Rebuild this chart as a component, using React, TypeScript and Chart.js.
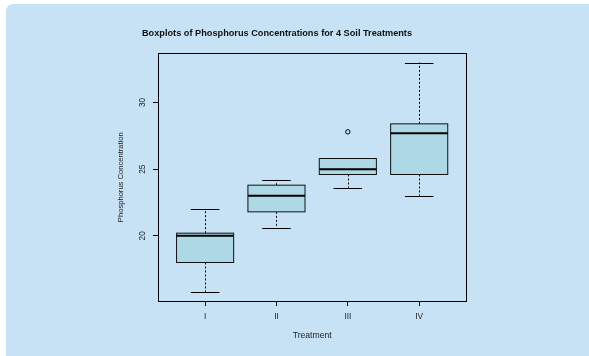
import React, { useEffect, useRef } from 'react';
import { Chart, registerables } from 'chart.js';

Chart.register(...registerables);

const categories = ['I', 'II', 'III', 'IV'];
const positions = [1, 2, 3, 4];
const whiskerLow = [15.8, 20.6, 23.6, 23.0];
const q1 = [18.0, 21.8, 24.6, 24.6];
const median = [20.0, 23.0, 25.0, 27.7];
const q3 = [20.2, 23.8, 25.8, 28.4];
const whiskerHigh = [22.0, 24.2, 25.8, 33.0];
const outlierX = [3];
const outlierY = [27.8];
const yTickValues = [20, 25, 30];

const allVals = [...whiskerLow, ...whiskerHigh, ...outlierY];
const dataMin = Math.min(...allVals);
const dataMax = Math.max(...allVals);
const yPad = (dataMax - dataMin) * 0.04;
const xPad = categories.length * 0.04;
const xMin = 0.5 - xPad;
const xMax = categories.length + 0.5 + xPad;

const FONT = '"Liberation Sans", Arial, Helvetica, sans-serif';

const boxPlugin = {
  id: 'rboxes',
  beforeDatasetsDraw(chart: any) {
    const { ctx, chartArea, scales } = chart;
    const x = scales.x;
    const y = scales.y;
    ctx.save();
    ctx.strokeStyle = '#000';
    ctx.lineWidth = 1;
    ctx.setLineDash([]);
    const l = Math.round(chartArea.left) + 0.5;
    const t = Math.round(chartArea.top) + 0.5;
    const r = Math.round(chartArea.right) + 0.5;
    const b = Math.round(chartArea.bottom) + 0.5;
    ctx.strokeRect(l, t, r - l, b - t);

    for (let i = 0; i < positions.length; i++) {
      const p = positions[i];
      const cx = Math.round(x.getPixelForValue(p)) + 0.5;
      const bl = x.getPixelForValue(p - 0.4);
      const br = x.getPixelForValue(p + 0.4);
      const cl = x.getPixelForValue(p - 0.2);
      const cr = x.getPixelForValue(p + 0.2);
      const yLo = y.getPixelForValue(whiskerLow[i]);
      const yQ1 = y.getPixelForValue(q1[i]);
      const yMed = y.getPixelForValue(median[i]);
      const yQ3 = y.getPixelForValue(q3[i]);
      const yHi = y.getPixelForValue(whiskerHigh[i]);

      ctx.strokeStyle = '#000';
      ctx.lineWidth = 1;
      ctx.setLineDash([2, 2]);
      ctx.beginPath();
      ctx.moveTo(cx, yQ1);
      ctx.lineTo(cx, yLo);
      ctx.moveTo(cx, yQ3);
      ctx.lineTo(cx, yHi);
      ctx.stroke();
      ctx.setLineDash([]);

      ctx.beginPath();
      ctx.moveTo(cl, Math.round(yLo) + 0.5);
      ctx.lineTo(cr, Math.round(yLo) + 0.5);
      ctx.moveTo(cl, Math.round(yHi) + 0.5);
      ctx.lineTo(cr, Math.round(yHi) + 0.5);
      ctx.stroke();

      ctx.fillStyle = '#ADD8E6';
      ctx.fillRect(bl, yQ3, br - bl, yQ1 - yQ3);
      ctx.strokeStyle = '#111';
      ctx.lineWidth = 1;
      ctx.strokeRect(bl, yQ3, br - bl, yQ1 - yQ3);

      ctx.strokeStyle = '#000';
      ctx.lineWidth = 2;
      ctx.beginPath();
      ctx.moveTo(bl, yMed);
      ctx.lineTo(br, yMed);
      ctx.stroke();
    }
    ctx.restore();
  },
};

export default function App() {
  const ref = useRef<HTMLCanvasElement | null>(null);

  useEffect(() => {
    const canvas = ref.current;
    if (!canvas) return;
    const chart = new Chart(canvas, {
      type: 'scatter',
      data: {
        datasets: [
          {
            label: 'outliers',
            data: outlierX.map((v, i) => ({ x: v, y: outlierY[i] })),
            pointRadius: 2.2,
            pointStyle: 'circle',
            borderColor: '#000',
            backgroundColor: 'rgba(0,0,0,0)',
            borderWidth: 1,
          },
        ],
      },
      options: {
        animation: false,
        responsive: false,
        devicePixelRatio: 1,
        layout: { padding: { left: 0, right: 35, top: 0, bottom: 0 } },
        plugins: {
          legend: { display: false },
          tooltip: { enabled: false },
          title: {
            display: true,
            text: 'Boxplots of Phosphorus Concentrations for 4 Soil Treatments',
            color: '#111',
            font: { family: FONT, size: 9.2, weight: 'bold', lineHeight: 1.2 },
            padding: { top: 27.8, bottom: 14.5 },
          },
        },
        scales: {
          x: {
            type: 'linear',
            min: xMin,
            max: xMax,
            afterBuildTicks: (s: any) => {
              s.ticks = positions.map((v) => ({ value: v }));
            },
            afterFit: (s: any) => {
              s.height = 55;
            },
            ticks: {
              callback: (v: any) => {
                const idx = positions.indexOf(Number(v));
                return idx >= 0 ? categories[idx] : '';
              },
              color: '#222',
              font: { family: FONT, size: 8.3 },
              padding: 6,
              maxRotation: 0,
              minRotation: 0,
              autoSkip: false,
            },
            grid: {
              drawOnChartArea: false,
              drawTicks: true,
              tickLength: 5,
              color: '#000',
              lineWidth: 1,
            },
            border: { display: false },
            title: {
              display: true,
              text: 'Treatment',
              color: '#222',
              font: { family: FONT, size: 8.6 },
              padding: { top: 0, bottom: 15 },
            },
          },
          y: {
            type: 'linear',
            min: dataMin - yPad,
            max: dataMax + yPad,
            afterBuildTicks: (s: any) => {
              s.ticks = yTickValues.map((v) => ({ value: v }));
            },
            afterFit: (s: any) => {
              s.width = 158;
            },
            ticks: {
              color: '#222',
              font: { family: FONT, size: 8.3 },
              padding: 5.9,
              minRotation: 90,
              maxRotation: 90,
              crossAlign: 'center',
              autoSkip: false,
            },
            grid: {
              drawOnChartArea: false,
              drawTicks: true,
              tickLength: 5,
              color: '#000',
              lineWidth: 1,
            },
            border: { display: false },
            title: {
              display: true,
              text: 'Phosphorus Concentration',
              color: '#222',
              font: { family: FONT, size: 7.6 },
              padding: { top: 116.1, bottom: 0 },
            },
          },
          spacer: {
            type: 'linear',
            position: 'right',
            display: true,
            afterFit: (s: any) => {
              s.width = 87.7;
            },
            ticks: { display: false },
            grid: { display: false, drawTicks: false },
            border: { display: false },
            title: { display: false },
          },
        },
      },
      plugins: [boxPlugin],
    } as any);
    return () => chart.destroy();
  }, []);

  return (
    <div
      style={{
        position: 'fixed',
        left: 0,
        top: 0,
        width: 589,
        height: 356,
        background: '#ffffff',
        overflow: 'hidden',
      }}
    >
      <div
        style={{
          position: 'absolute',
          left: 6,
          top: 4,
          width: 700,
          height: 500,
          background: '#C8E2F5',
          borderRadius: 7,
        }}
      />
      <canvas
        ref={ref}
        width={589}
        height={356}
        style={{ position: 'absolute', left: 0, top: 0, width: 589, height: 356 }}
      />
    </div>
  );
}
